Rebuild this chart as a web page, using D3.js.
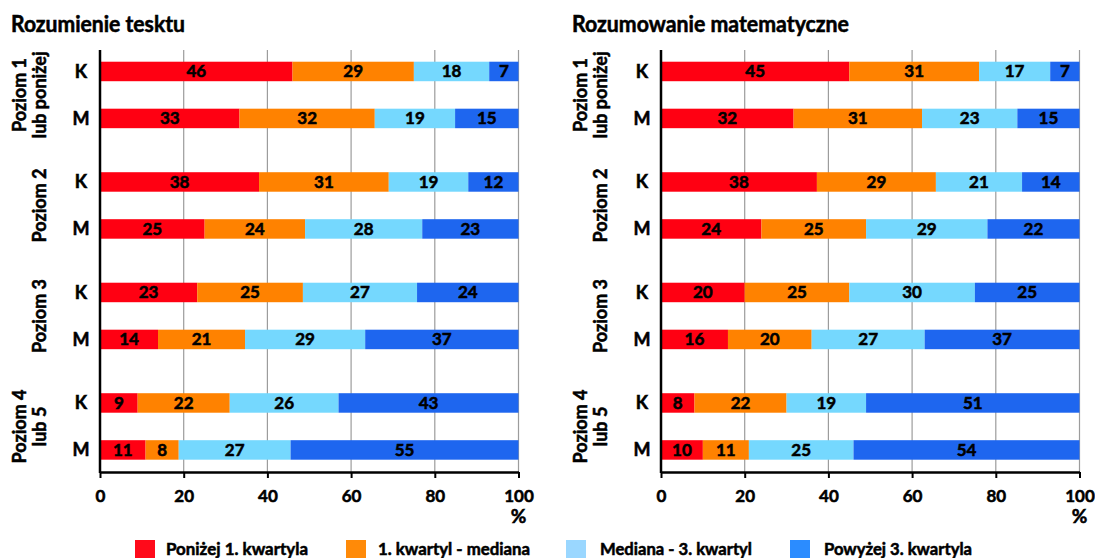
<!DOCTYPE html>
<html>
<head>
<meta charset="utf-8">
<script src="https://cdn.jsdelivr.net/npm/d3@7"></script>
<style>
  body { margin: 0; background: #fff; }
  svg { display: block; }
  text { font-family: Lato, "Open Sans", sans-serif; font-weight: 700; fill: #000; stroke: #000; stroke-width: 0.55px; }
</style>
</head>
<body>
<svg id="chart" width="1095" height="558"></svg>
<script>
// Achievement levels (each split into K / M rows)
const levels = [["Poziom 1", "lub poniżej"], ["Poziom 2"], ["Poziom 3"], ["Poziom 4", "lub 5"]];
const genders = ["K", "M"];
const seriesNames = ["Poniżej 1. kwartyla", "1. kwartyl - mediana", "Mediana - 3. kwartyl", "Powyżej 3. kwartyla"];
const tickValues = [0, 20, 40, 60, 80, 100];

// Percent of students in each quartile group, rows: level × (K, M)
const readingValues = [
  [46, 29, 18, 7], [33, 32, 19, 15],
  [38, 31, 19, 12], [25, 24, 28, 23],
  [23, 25, 27, 24], [14, 21, 29, 37],
  [9, 22, 26, 43], [11, 8, 27, 55]
];
const mathValues = [
  [45, 31, 17, 7], [32, 31, 23, 15],
  [38, 29, 21, 14], [24, 25, 29, 22],
  [20, 25, 30, 25], [16, 20, 27, 37],
  [8, 22, 19, 51], [10, 11, 25, 54]
];

const barColors = ["#ff0012", "#ff8200", "#75d8fe", "#1e66ef"];
const legendColors = ["#ff0a1a", "#ff8a08", "#9ad7ff", "#2b8cff"];

const svg = d3.select("#chart");

const panels = [
  { title: "Rozumienie tesktu", titleWidth: 174, values: readingValues, x0: 100, x1: 518.5 },
  { title: "Rozumowanie matematyczne", titleWidth: 277, values: mathValues, x0: 661, x1: 1079.5 }
];

const axisTop = 50, axisBottom = 472;

// Vertical layout: one band per level, K/M points inside each band
const yLevel = d3.scaleBand().domain(d3.range(levels.length)).range([39.7, 481.7]);
const yRow = d3.scalePoint().domain(genders).range([0, yLevel.bandwidth()]).padding(0.676);
const barH = 19.5;

panels.forEach(p => {
  const g = svg.append("g");
  const x = d3.scaleLinear().domain([0, 100]).range([p.x0, p.x1]);

  g.append("text")
    .attr("x", p.x0 - 89).attr("y", 32)
    .attr("font-size", 22)
    .attr("textLength", p.titleWidth).attr("lengthAdjust", "spacingAndGlyphs")
    .text(p.title);

  // grid
  g.selectAll("line.grid").data(tickValues.filter(t => t > 0)).join("line")
    .attr("class", "grid")
    .attr("x1", d => x(d)).attr("x2", d => x(d))
    .attr("y1", axisTop).attr("y2", axisBottom)
    .attr("stroke", "#9c9c9c").attr("stroke-width", 1.2);

  // stacked rows, each normalised to its own total
  const rows = p.values.map((vals, i) => {
    const total = d3.sum(vals);
    let acc = 0;
    const segs = vals.map((v, k) => {
      const s = { k, v, a: acc / total * 100, b: (acc + v) / total * 100 };
      acc += v;
      return s;
    });
    const level = Math.floor(i / 2), gender = genders[i % 2];
    return { level, gender, cy: yLevel(level) + yRow(gender), segs };
  });

  const rowG = g.selectAll("g.row").data(rows).join("g").attr("class", "row");
  rowG.selectAll("rect").data(r => r.segs.map(s => ({ ...s, cy: r.cy }))).join("rect")
    .attr("x", d => x(d.a)).attr("width", d => x(d.b) - x(d.a))
    .attr("y", d => d.cy - barH / 2).attr("height", barH)
    .attr("fill", d => barColors[d.k]);
  rowG.selectAll("text.val").data(r => r.segs.map(s => ({ ...s, cy: r.cy }))).join("text")
    .attr("class", "val")
    .attr("x", d => x((d.a + d.b) / 2)).attr("y", d => d.cy + 6)
    .attr("text-anchor", "middle").attr("font-size", 17)
    .text(d => d.v);

  // K / M labels
  g.selectAll("text.gen").data(rows).join("text")
    .attr("class", "gen")
    .attr("x", p.x0 - 19).attr("y", d => d.cy + 6.5)
    .attr("text-anchor", "middle").attr("font-size", 18)
    .text(d => d.gender);

  // level labels, rotated
  levels.forEach((lines, li) => {
    const cy = yLevel(li) + yLevel.bandwidth() / 2;
    lines.forEach((line, j) => {
      const bx = p.x0 - 54 - (lines.length - 1 - j) * 20.5;
      g.append("text")
        .attr("transform", `translate(${bx},${cy}) rotate(-90)`)
        .attr("text-anchor", "middle").attr("font-size", 18)
        .text(line);
    });
  });

  // axes
  g.append("line")
    .attr("x1", p.x0).attr("x2", p.x0)
    .attr("y1", axisTop).attr("y2", axisBottom + 1)
    .attr("stroke", "#000").attr("stroke-width", 2.5);

  const ax = g.append("g").attr("transform", `translate(0,${axisBottom})`)
    .call(d3.axisBottom(x).tickValues(tickValues).tickSize(6).tickSizeOuter(0).tickPadding(12));
  ax.select(".domain").attr("stroke", "#000").attr("stroke-width", 2.5);
  ax.selectAll(".tick line").attr("stroke", "#000").attr("stroke-width", 2);
  ax.selectAll(".tick text")
    .attr("font-family", "Lato, 'Open Sans', sans-serif").attr("font-weight", 700)
    .attr("font-size", 17).attr("fill", "#000");

  g.append("text")
    .attr("x", x(100)).attr("y", 523)
    .attr("text-anchor", "middle").attr("font-size", 19)
    .text("%");
});

// legend
const legendX = [135, 346, 566, 790];
const legendW = [142, 152, 152, 148];
const lg = svg.append("g").selectAll("g").data(seriesNames).join("g")
  .attr("transform", (d, i) => `translate(${legendX[i]},540)`);
lg.append("rect").attr("width", 20).attr("height", 18).attr("fill", (d, i) => legendColors[i]);
lg.append("text")
  .attr("x", (d, i) => i === 0 ? 31 : i === 1 ? 32 : 34).attr("y", 15)
  .attr("font-size", 17)
  .attr("textLength", (d, i) => legendW[i]).attr("lengthAdjust", "spacingAndGlyphs")
  .text(d => d);
</script>
</body>
</html>
